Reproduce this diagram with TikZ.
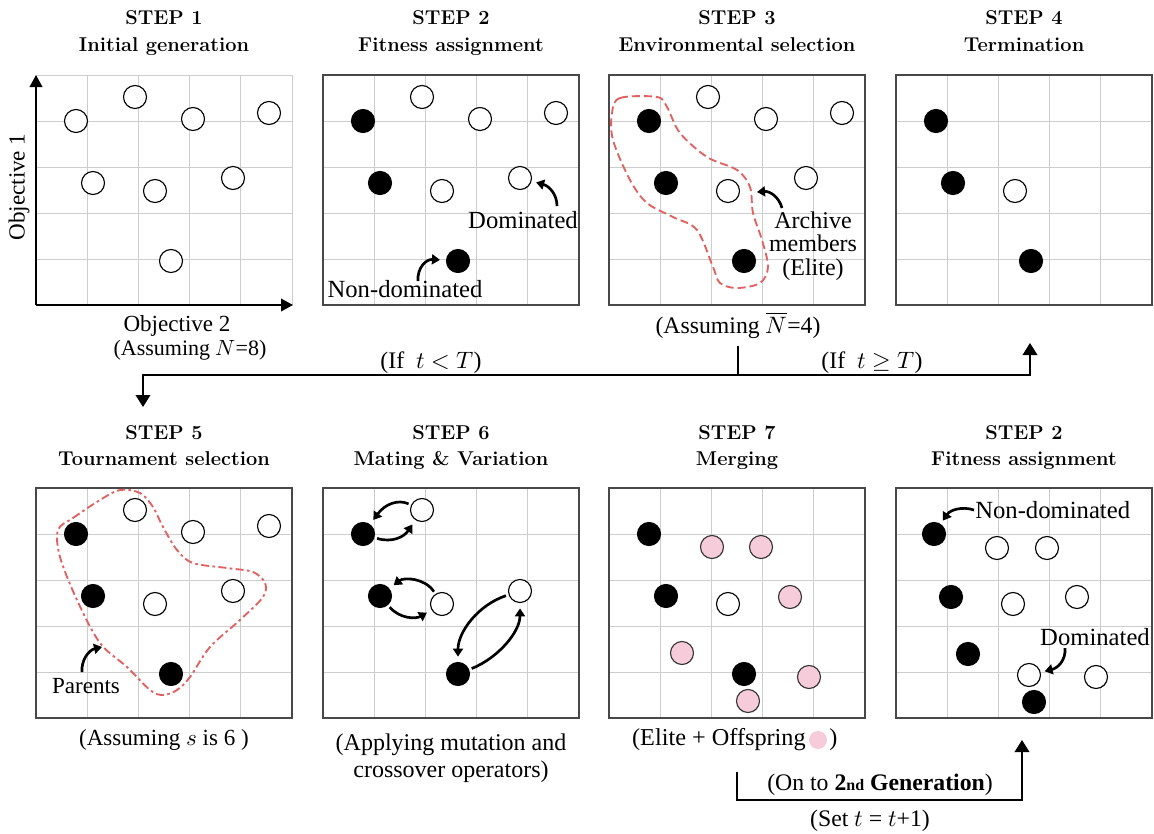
\documentclass[tikz,border=0pt]{standalone}
\usepackage{fontspec}
\usepackage{unicode-math}
\setmathfont{Latin Modern Math}
\newfontfamily\bodyfont{Liberation Serif}
\usetikzlibrary{arrows.meta,calc}

\definecolor{gridgray}{RGB}{205,205,205}
\definecolor{framegray}{RGB}{72,72,72}
\definecolor{offpink}{RGB}{246,204,219}
\definecolor{hullred}{RGB}{226,98,98}

\tikzset{
  ind/.style={circle,draw=black,line width=0.85pt,minimum size=17.25pt,inner sep=0pt},
  indopen/.style={ind,fill=white},
  indelite/.style={ind,fill=black},
  indkid/.style={ind,fill=offpink,draw=black!80},
  kiddot/.style={circle,fill=offpink,minimum size=13.5pt,inner sep=0pt},
  gridline/.style={gridgray,line width=0.7pt},
  frame/.style={framegray,line width=0.9pt},
  steptitle/.style={anchor=base,inner sep=0pt,font=\fontsize{15}{18}\selectfont\bfseries},
  txt/.style={anchor=base,inner sep=0pt,font=\bodyfont\fontsize{17.8}{21}\selectfont},
  bigtxt/.style={txt,font=\bodyfont\fontsize{18.5}{21}\selectfont},
  axis/.style={line width=1.1pt,-{Triangle[length=9pt,width=9.5pt]}},
  note/.style={line width=2pt,-{Triangle[length=6pt,width=7.5pt]}},
  swap/.style={line width=2pt,shorten <=2pt,shorten >=4pt,-{Triangle[length=6pt,width=7.5pt]}},
  flow/.style={line width=1.1pt,-{Triangle[length=9pt,width=11pt]}},
  link/.style={line width=1.1pt},
  hull/.style={hullred,line width=1.4pt,dash pattern=on 6pt off 3pt},
  hulldot/.style={hullred,line width=1.4pt,dash pattern=on 6pt off 2.5pt on 2pt off 2.5pt},
  pics/grid/.style={code={
    \foreach \k in {1,...,4}{
      \draw[gridline] (\k*51.2,0) -- (\k*51.2,230);
      \draw[gridline] (0,\k*46) -- (256,\k*46);
    }
  }},
  pics/board/.style={code={
    \pic {grid};
    \draw[frame] (0,0) rectangle (256,230);
  }},
}

\begin{document}
\begin{tikzpicture}[x=0.75pt,y=-0.75pt]
\useasboundingbox[fill=white] (0,0) rectangle (1154,833);

% ---------------- titles
\node[steptitle] (t1a) at (164,24) {STEP 1};
\node[steptitle] (t1b) at (164,51) {Initial generation};
\node[steptitle] (t2a) at (451,24) {STEP 2};
\node[steptitle] (t2b) at (451,51) {Fitness assignment};
\node[steptitle] (t3a) at (737,24) {STEP 3};
\node[steptitle] (t3b) at (737,51) {Environmental selection};
\node[steptitle] (t4a) at (1024,24) {STEP 4};
\node[steptitle] (t4b) at (1024,51) {Termination};
\node[steptitle] (t5a) at (164,439) {STEP 5};
\node[steptitle] (t5b) at (164,465) {Tournament selection};
\node[steptitle] (t6a) at (451,439) {STEP 6};
\node[steptitle] (t6b) at (451,465) {Mating \& Variation};
\node[steptitle] (t7a) at (737,439) {STEP 7};
\node[steptitle] (t7b) at (737,465) {Merging};
\node[steptitle] (t8a) at (1024,439) {STEP 2};
\node[steptitle] (t8b) at (1024,465) {Fitness assignment};

% ---------------- step 1: initial population
\begin{scope}[shift={(36,75)}]
  \pic {grid};
  \draw[gridline] (0,0) -- (256,0) -- (256,230);
  \coordinate (p1-o) at (0,230);
  \coordinate (p1-y) at (0,0);
  \coordinate (p1-x) at (257,230);
  \foreach \n/\x/\y in {1/40/46,2/99/22,3/157/44,4/233/38,5/57/108,6/119/116,7/197/103,8/135/186}
    \node[indopen] (p1-\n) at (\x,\y) {};
\end{scope}
\draw[axis] (p1-o) -- (p1-y);
\draw[axis] (p1-o) -- (p1-x);
\node[txt,anchor=center,rotate=90,font=\bodyfont\fontsize{17.3}{21}\selectfont] (ylab) at (19,187) {Objective 1};
\node[txt,font=\bodyfont\fontsize{17.3}{21}\selectfont] (xlab) at (177,331) {Objective 2};
\node[txt,font=\bodyfont\fontsize{16.5}{21}\selectfont] (cap1) at (190,355) {(Assuming $N$=8)};

% ---------------- step 2: fitness assignment
\begin{scope}[shift={(323,75)}]
  \pic {board};
  \foreach \n/\x/\y in {2/99/22,3/157/44,4/233/38,6/119/116,7/197/103}
    \node[indopen] (p2-\n) at (\x,\y) {};
  \foreach \n/\x/\y in {1/40/46,5/57/108,8/135/186}
    \node[indelite] (p2-\n) at (\x,\y) {};
\end{scope}
\node[bigtxt] (dom2) at (523,228) {Dominated};
\node[bigtxt] (nd2) at (405,297) {Non-dominated};
\coordinate (dom2-tail) at (557,206);
\coordinate (nd2-tail) at (418,281);
\draw[note,shorten >=3.5pt] (dom2-tail) .. controls (557,194) and (549,186) .. (p2-7);
\draw[note,shorten >=4.5pt] (nd2-tail) .. controls (417,268) and (426,259) .. (p2-8);

% ---------------- step 3: environmental selection
\begin{scope}[shift={(609,75)}]
  \pic {board};
  \draw[hull] plot[smooth cycle,tension=0.55] coordinates {
    (3,38) (11,23) (48,22) (58,32) (71,58) (98,82) (128,95) (141,112)
    (144,138) (153,165) (159,192) (151,208) (128,213) (111,208) (104,192)
    (88,155) (64,142) (38,128) (21,105) (4,65)};
  \foreach \n/\x/\y in {2/99/22,3/157/44,4/233/38,6/119/116,7/197/103}
    \node[indopen] (p3-\n) at (\x,\y) {};
  \foreach \n/\x/\y in {1/40/46,5/57/108,8/135/186}
    \node[indelite] (p3-\n) at (\x,\y) {};
\end{scope}
\node[txt,anchor=center,align=center,font=\bodyfont\fontsize{18}{17.5}\selectfont] (arch3) at (813,246) {Archive\\members\\(Elite)};
\coordinate (arch3-tail) at (782,208);
\coordinate (arch3-tip) at (757,192);
\draw[note] (arch3-tail) .. controls (779,197) and (770,191) .. (arch3-tip);
\node[txt] (cap3) at (738,333) {(Assuming $\overline{N}$=4)};

% ---------------- step 4: termination
\begin{scope}[shift={(896,75)}]
  \pic {board};
  \node[indopen] (p4-6) at (119,116) {};
  \foreach \n/\x/\y in {1/40/46,5/57/108,8/135/186}
    \node[indelite] (p4-\n) at (\x,\y) {};
\end{scope}

% ---------------- loop control
\coordinate (fork) at (737,375);
\coordinate (to5) at (143,407);
\coordinate (to4) at (1030,343);
\draw[link] ([yshift=-6pt]cap3.south) -- (cap3.south |- fork);
\draw[flow] (fork) -| (to5);
\draw[flow] (fork) -| (to4);
\node[txt] (iflt) at (431,368) {(If\ \ $t<T$)};
\node[txt] (ifge) at (872,368) {(If\ \ $t\geq T$)};

% ---------------- step 5: tournament selection
\begin{scope}[shift={(36,488)}]
  \pic {board};
  \draw[hulldot] plot[smooth cycle,tension=0.55] coordinates {
    (22,42) (37,30) (64,12) (84,2) (104,5) (117,19) (127,39) (141,62)
    (157,75) (191,80) (217,84) (229,95) (227,109) (204,132) (174,159)
    (154,189) (141,202) (127,207) (114,202) (91,179) (64,155) (41,112) (24,69)};
  \foreach \n/\x/\y in {2/99/22,3/157/44,4/233/38,6/119/116,7/197/103}
    \node[indopen] (p5-\n) at (\x,\y) {};
  \foreach \n/\x/\y in {1/40/46,5/57/108,8/135/186}
    \node[indelite] (p5-\n) at (\x,\y) {};
\end{scope}
\node[txt,font=\bodyfont\fontsize{17.3}{21}\selectfont] (par5) at (86,693) {Parents};
\coordinate (par5-tail) at (82,672);
\coordinate (par5-tip) at (102,647);
\draw[note] (par5-tail) .. controls (81,660) and (89,650) .. (par5-tip);
\node[txt,font=\bodyfont\fontsize{17.3}{21}\selectfont] (cap5) at (164,745) {(Assuming $s$ is 6 )};

% ---------------- step 6: mating and variation
\begin{scope}[shift={(323,488)}]
  \pic {board};
  \foreach \n/\x/\y in {2/99/22,6/119/116,7/197/103}
    \node[indopen] (p6-\n) at (\x,\y) {};
  \foreach \n/\x/\y in {1/40/46,5/57/108,8/135/186}
    \node[indelite] (p6-\n) at (\x,\y) {};
\end{scope}
\draw[swap] (p6-2) .. controls (398,499) and (385,504) .. (p6-1);
\draw[swap] (p6-1) .. controls (392,543) and (404,537) .. (p6-2);
\draw[swap] (p6-6) .. controls (425,578) and (404,577) .. (p6-5);
\draw[swap] (p6-5) .. controls (400,619) and (416,619) .. (p6-6);
\draw[swap] (p6-7) .. controls (478,605) and (458,632) .. (p6-8);
\draw[swap] (p6-8) .. controls (498,658) and (520,632) .. (p6-7);
\node[txt,anchor=center,align=center,font=\bodyfont\fontsize{18}{20}\selectfont] (cap6) at (451,758) {(Applying mutation and\\crossover operators)};

% ---------------- step 7: merging
\begin{scope}[shift={(609,488)}]
  \pic {board};
  \node[indopen] (p7-6) at (119,116) {};
  \foreach \n/\x/\y in {1/40/46,5/57/108,8/135/186}
    \node[indelite] (p7-\n) at (\x,\y) {};
  \foreach \n/\x/\y in {1/103/59,2/152/59,3/181/109,4/73/165,5/200/189,6/139/213}
    \node[indkid] (p7-k\n) at (\x,\y) {};
\end{scope}
\node[txt,anchor=base east,font=\bodyfont\fontsize{18.2}{21}\selectfont] (cap7) at (806,745) {(Elite + Offspring};
\node[kiddot] (cap7-dot) at (818,740) {};
\node[txt,anchor=base west,font=\bodyfont\fontsize{18.2}{21}\selectfont] (cap7-end) at (829,745) {)};

% ---------------- step 2 again: fitness of merged population
\begin{scope}[shift={(896,488)}]
  \pic {board};
  \foreach \n/\x/\y in {1/101/60,2/151/60,3/117/116,4/181/109,5/133/187,6/200/189}
    \node[indopen] (p8-o\n) at (\x,\y) {};
  \foreach \n/\x/\y in {1/38/46,2/55/109,3/72/166,4/138/214}
    \node[indelite] (p8-e\n) at (\x,\y) {};
\end{scope}
\node[bigtxt,anchor=base west] (nd8) at (975,518) {Non-dominated};
\node[bigtxt] (dom8) at (1095,645) {Dominated};
\coordinate (nd8-tail) at (974,510);
\coordinate (dom8-tail) at (1065,648);
\draw[note,shorten >=3pt] (nd8-tail) .. controls (962,506) and (950,510) .. (p8-e1);
\draw[note,shorten >=3pt] (dom8-tail) .. controls (1066,660) and (1058,668) .. (p8-o5);

% ---------------- next generation
\coordinate (m7) at (737,772);
\coordinate (m7b) at (737,800);
\coordinate (to8) at (1022,740);
\draw[flow] (m7) -- (m7b) -| (to8);
\node[txt] (gen) at (880,790) {(On to \textbf{2{\fontsize{12}{14}\selectfont nd} Generation})};
\node[txt] (sett) at (870,826) {(Set $t$ = $t$+1)};
\end{tikzpicture}
\end{document}
